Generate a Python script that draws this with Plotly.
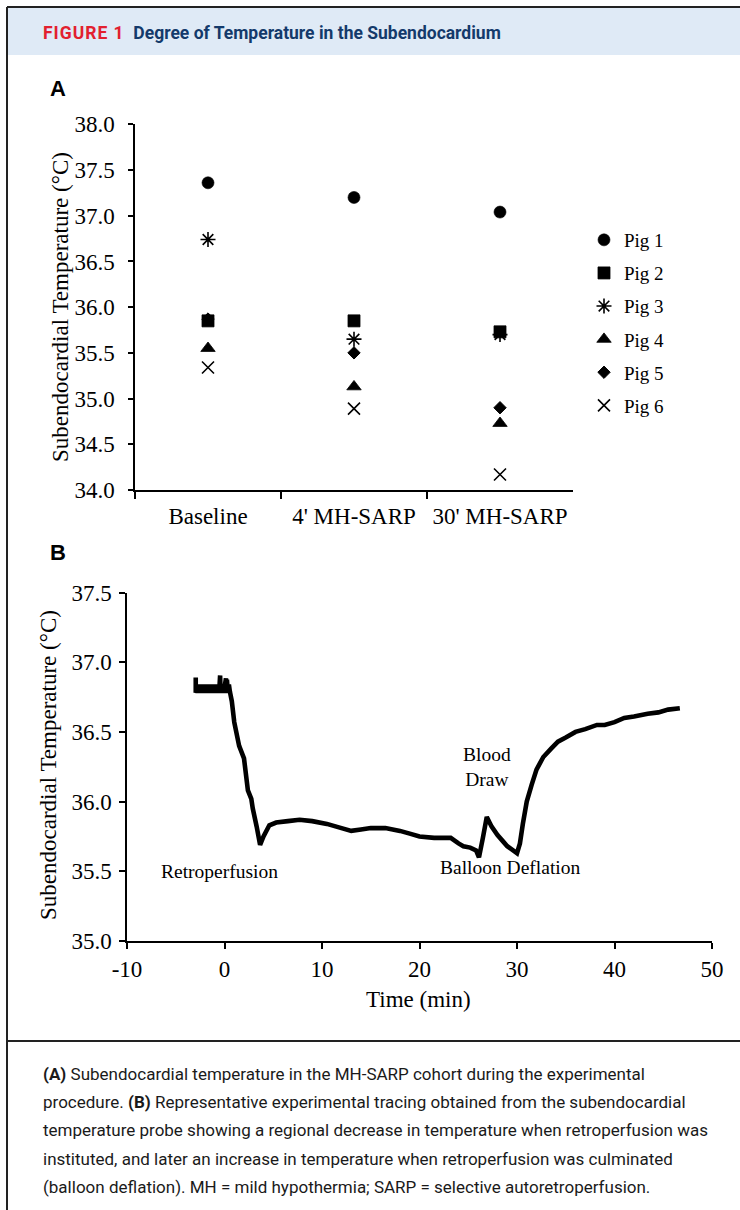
import plotly.graph_objects as go

W, H = 740, 1210

# ---------------- Panel A data ----------------
categories = ["Baseline", "4' MH-SARP", "30' MH-SARP"]
pig1 = [37.36, 37.20, 37.04]
pig2 = [35.85, 35.85, 35.73]
pig3 = [36.74, 35.65, 35.70]
pig4 = [35.55, 35.13, 34.73]
pig5 = [35.87, 35.50, 34.90]
pig6 = [35.34, 34.89, 34.17]
y_ticks_a = [34.0, 34.5, 35.0, 35.5, 36.0, 36.5, 37.0, 37.5, 38.0]

# ---------------- Panel B data ----------------
trace_t = [
    -2.95, -2.95, -2.85, -2.75, -2.65, -2.55, -2.45, -2.35, -2.25, -2.15,
    -2.05, -1.95, -1.85, -1.75, -1.65, -1.55, -1.45, -1.35, -1.25, -1.15,
    -1.05, -0.95, -0.85, -0.75, -0.65, -0.55, -0.45, -0.40, -0.35, -0.25,
    -0.15, -0.05, 0.05, 0.15, 0.20, 0.25, 0.35, 0.45, 0.55,
    0.75, 1.0, 1.5, 2.0, 2.4, 2.75, 2.9, 3.3, 3.65, 4.0,
    4.6, 5.3, 6.5, 7.7, 9.0, 10.5, 12.0, 13.0, 14.0, 15.0,
    16.5, 18.0, 19.0, 20.0, 21.5, 23.2, 24.0, 24.5, 25.2, 25.8,
    26.1, 26.5, 26.9, 27.4, 28.0, 28.5, 29.0, 29.6, 30.0, 30.3,
    30.6, 31.0, 31.5, 32.0, 32.7, 33.5, 34.2, 35.0, 36.0, 37.0,
    38.2, 39.0, 40.0, 41.0, 42.0, 43.4, 44.5, 45.5, 46.7,
]
trace_v = [
    36.89, 36.78, 36.84, 36.78, 36.84, 36.78, 36.84, 36.78, 36.84, 36.78,
    36.84, 36.78, 36.84, 36.78, 36.84, 36.78, 36.84, 36.78, 36.84, 36.78,
    36.84, 36.78, 36.84, 36.78, 36.84, 36.78, 36.905, 36.78, 36.84, 36.78,
    36.84, 36.78, 36.84, 36.885, 36.78, 36.875, 36.78, 36.84, 36.79,
    36.72, 36.57, 36.40, 36.31, 36.08, 36.02, 35.95, 35.82, 35.69, 35.75,
    35.83, 35.85, 35.86, 35.87, 35.86, 35.84, 35.81, 35.79, 35.80, 35.81,
    35.81, 35.79, 35.77, 35.75, 35.74, 35.74, 35.70, 35.68, 35.67, 35.65,
    35.60, 35.74, 35.89, 35.82, 35.76, 35.72, 35.68, 35.65, 35.63, 35.70,
    35.84, 36.00, 36.12, 36.23, 36.32, 36.38, 36.43, 36.46, 36.50, 36.52,
    36.55, 36.55, 36.57, 36.60, 36.61, 36.63, 36.64, 36.66, 36.67,
]
assert len(trace_t) == len(trace_v)
x_ticks_b = [-10, 0, 10, 20, 30, 40, 50]
x_ticklabels_b = ["-10", "0", "10", "20", "30", "40", "50"]
y_ticks_b = [35.0, 35.5, 36.0, 36.5, 37.0, 37.5]

# ---------------- text ----------------
header_red = "FIGURE 1"
header_title = "Degree of Temperature in the Subendocardium"
caption_lines = [
    "<b>(A)</b> Subendocardial temperature in the MH-SARP cohort during the experimental",
    "procedure. <b>(B)</b> Representative experimental tracing obtained from the subendocardial",
    "temperature probe showing a regional decrease in temperature when retroperfusion was",
    "instituted, and later an increase in temperature when retroperfusion was culminated",
    "(balloon deflation). MH = mild hypothermia; SARP = selective autoretroperfusion.",
]

SERIF = "Liberation Serif, Times New Roman, serif"
SANS = "Roboto, Liberation Sans, sans-serif"


def px(x):
    return x / W


def py(y):
    return 1 - y / H


fig = go.Figure()

# draw order (pig5 behind pig2), legend order by legendrank
# (name, values, symbol, size, outline width, legend rank)
series = [
    ("Pig 1", pig1, "circle", 12, 0.6, 1),
    ("Pig 5", pig5, "diamond", 9.5, 1.0, 5),
    ("Pig 2", pig2, "square", 12, 0.8, 2),
    ("Pig 3", pig3, "asterisk-open", 12.5, 1.6, 3),
    ("Pig 4", pig4, "triangle-up", 12.5, 0.8, 4),
    ("Pig 6", pig6, "x-thin-open", 12, 1.6, 6),
]
for name, vals, sym, size, lw, rank in series:
    fig.add_trace(go.Scatter(
        x=categories, y=vals, mode="markers", name=name,
        legendrank=rank, legendgroup=name,
        marker=dict(symbol=sym, size=size, color="black",
                    line=dict(color="black", width=lw)),
        xaxis="x", yaxis="y",
    ))

fig.add_trace(go.Scatter(
    x=trace_t, y=trace_v, mode="lines", showlegend=False,
    line=dict(color="black", width=4.6, simplify=False), xaxis="x2", yaxis="y2",
))

axis_common = dict(showline=True, linecolor="black", linewidth=1.5,
                   ticks="outside", tickcolor="black", tickwidth=1.5,
                   showgrid=False, zeroline=False, automargin=False,
                   tickfont=dict(family=SERIF, size=23, color="black"))

fig.update_layout(
    width=W, height=H,
    margin=dict(l=0, r=0, t=0, b=0, autoexpand=False),
    paper_bgcolor="white", plot_bgcolor="white",
    xaxis=dict(domain=[px(135), px(573)], anchor="y", type="category",
               range=[-0.5, 2.5], tickson="boundaries", ticklen=7, tickangle=0,
               ticklabelstandoff=5, **axis_common),
    yaxis=dict(domain=[py(490), py(124.3)], anchor="x", range=[34, 38],
               tickvals=y_ticks_a, tickformat=".1f", ticklen=5,
               ticklabelstandoff=9, **axis_common),
    xaxis2=dict(domain=[px(127), px(712)], anchor="y2", range=[-10, 50],
                tickvals=x_ticks_b, ticktext=x_ticklabels_b, ticklen=6,
                tickangle=0, ticklabelstandoff=1, **axis_common),
    yaxis2=dict(domain=[py(941), py(592.5)], anchor="x2", range=[35, 37.5],
                tickvals=y_ticks_b, tickformat=".1f", ticklen=6,
                ticklabelstandoff=3, **axis_common),
    legend=dict(x=px(584), y=py(221), xanchor="left", yanchor="top",
                traceorder="grouped", tracegroupgap=5.4,
                font=dict(family=SERIF, size=19, color="black"),
                bgcolor="rgba(0,0,0,0)", itemclick=False),
    showlegend=True,
)

# frame & header band
shapes = [
    dict(type="rect", xref="paper", yref="paper", x0=px(8), x1=1, y0=py(55), y1=py(8),
         fillcolor="#dfeaf6", line=dict(width=0), layer="below"),
    dict(type="line", xref="paper", yref="paper", x0=px(7), x1=1, y0=py(7), y1=py(7),
         line=dict(color="#222222", width=2)),
    dict(type="line", xref="paper", yref="paper", x0=px(7), x1=px(7), y0=0, y1=py(7),
         line=dict(color="#222222", width=2)),
    dict(type="line", xref="paper", yref="paper", x0=px(7), x1=1, y0=py(1041), y1=py(1041),
         line=dict(color="#222222", width=2)),
]
fig.update_layout(shapes=shapes)

ann = []
ann.append(dict(
    x=px(41), y=py(33), xref="paper", yref="paper", xanchor="left", yanchor="middle",
    showarrow=False,
    text=(f"<b><span style='color:#e2202f;letter-spacing:1px'>{header_red}</span>"
          f"  <span style='color:#143a6b'>{header_title}</span></b>"),
    font=dict(family=SANS, size=17.5, color="#143a6b"),
))
for lab, yy in (("A", 88), ("B", 552)):
    ann.append(dict(x=px(58), y=py(yy), xref="paper", yref="paper",
                    xanchor="center", yanchor="middle", showarrow=False,
                    text=f"<b>{lab}</b>",
                    font=dict(family="Liberation Sans, Arial, sans-serif", size=22,
                              color="black")))
# y-axis titles
ann.append(dict(x=px(60), y=py(307), xref="paper", yref="paper", textangle=-90,
                xanchor="center", yanchor="middle", showarrow=False,
                text="Subendocardial Temperature (°C)",
                font=dict(family=SERIF, size=23, color="black")))
ann.append(dict(x=px(48), y=py(765), xref="paper", yref="paper", textangle=-90,
                xanchor="center", yanchor="middle", showarrow=False,
                text="Subendocardial Temperature (°C)",
                font=dict(family=SERIF, size=23, color="black")))
ann.append(dict(x=px(418), y=py(999), xref="paper", yref="paper",
                xanchor="center", yanchor="middle", showarrow=False,
                text="Time (min)", font=dict(family=SERIF, size=23, color="black")))
# panel B event labels (data coords)
for txt, tx, ty in (("Retroperfusion", -0.5, 35.5),
                    ("Blood<br>Draw", 26.9, 36.25),
                    ("Balloon Deflation", 29.3, 35.53)):
    ann.append(dict(x=tx, y=ty, xref="x2", yref="y2", xanchor="center",
                    yanchor="middle", showarrow=False, text=txt,
                    font=dict(family=SERIF, size=19.5, color="black")))
# caption
for i, line in enumerate(caption_lines):
    ann.append(dict(x=px(41), y=py(1074 + 28.2 * i), xref="paper", yref="paper",
                    xanchor="left", yanchor="middle", showarrow=False, text=line,
                    font=dict(family=SANS, size=17, color="#1a1a1a")))
fig.update_layout(annotations=ann)

fig.write_html("out.html")
